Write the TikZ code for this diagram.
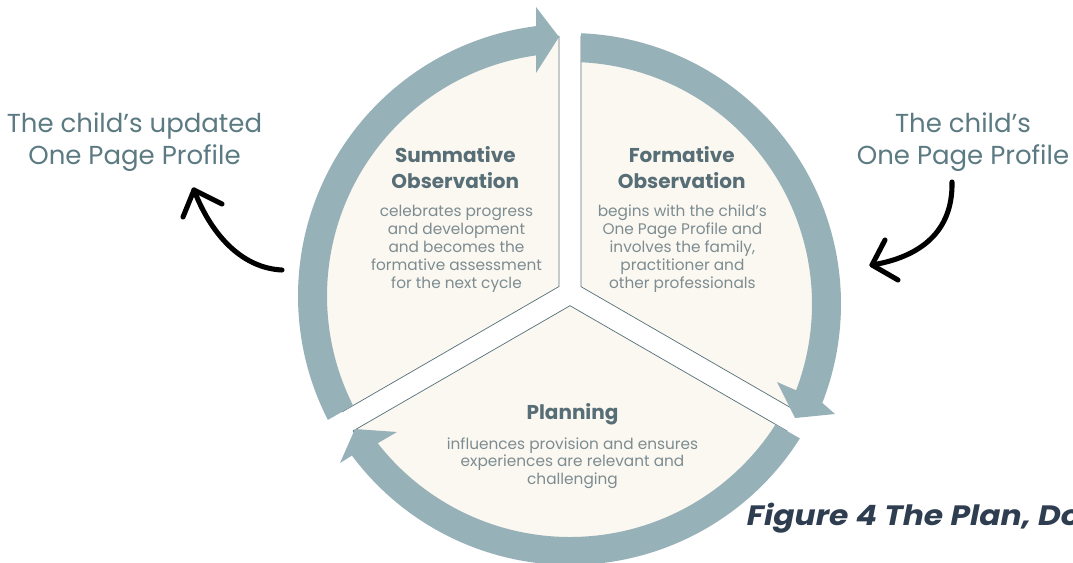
\documentclass[tikz,border=0pt]{standalone}
\usepackage{fontspec}
\usepackage{graphicx}
\setmainfont{Poppins}
\usetikzlibrary{calc}
\definecolor{ringc}{HTML}{97B1B8}
\definecolor{creamc}{HTML}{FBF8F1}
\definecolor{edgec}{HTML}{5A737D}
\definecolor{headc}{HTML}{586E76}
\definecolor{bodyc}{HTML}{7D8C91}
\definecolor{labelc}{HTML}{5C7A82}
\definecolor{capc}{HTML}{2E3D4F}
\tikzset{
  sector/.style={fill=creamc, draw=edgec, line width=0.55pt},
  ringarrow/.style={fill=ringc},
  handarrow/.style={draw=black, line width=3.8pt, line cap=round, line join=round},
  outerlabel/.style={text=labelc, font=\fontsize{19.5}{23.7}\selectfont, align=center, anchor=north, inner sep=0pt},
  heading/.style={text=headc, font=\bfseries\fontsize{15}{19.5}\selectfont, align=center, anchor=north, inner sep=0pt},
  bodytext/.style={text=bodyc, font=\fontsize{11.5}{13.4}\selectfont, align=center, anchor=north, inner sep=0pt},
  planbody/.style={text=bodyc, font=\fontsize{11.5}{13.1}\selectfont, align=center, anchor=north, inner sep=0pt},
  caption/.style={text=capc, font=\bfseries\itshape\fontsize{21}{25}\selectfont, anchor=base west, inner sep=0pt}
}
\begin{document}
\begin{tikzpicture}[x=0.75pt, y=0.75pt]
\useasboundingbox (0,0) rectangle (1073,562);
\fill[white] (0,0) rectangle (1073,562);
% centres
\coordinate (O) at (570,269);
\coordinate (L) at (570,266);
\coordinate (R) at (570,258);
\coordinate (B) at (570,269);
% sectors
\draw[sector] (559,275.5) -- ($(O)+(92.45:257)$) arc[start angle=92.45, end angle=207.55, radius=257] -- cycle;
\draw[sector] (581,275.35) -- ($(O)+(-27.55:257)$) arc[start angle=-27.55, end angle=87.55, radius=257] -- cycle;
\draw[sector] (570,256.3) -- ($(O)+(212.45:257)$) arc[start angle=212.45, end angle=327.55, radius=257] -- cycle;
% ring arrows
\fill[ringarrow] ($(L)+(207.11:272)$) arc[start angle=207.11, end angle=97.18, radius=272]
  -- (536,555) -- (559,525) -- (536,489)
  -- ($(L)+(98.04:243)$) arc[start angle=98.04, end angle=206.77, radius=243] -- cycle;
\fill[ringarrow] ($(R)+(87.67:271)$) arc[start angle=87.67, end angle=-21.4, radius=271]
  -- (835,148) -- (795,144) -- (777,180)
  -- ($(R)+(-20.9:242)$) arc[start angle=-20.9, end angle=87.39, radius=242] -- cycle;
\fill[ringarrow] ($(B)+(-32.32:272)$) arc[start angle=-32.32, end angle=-143.3, radius=272]
  -- (340,99) -- (355,133) -- (397,130)
  -- ($(B)+(-142:244)$) arc[start angle=-142, end angle=-32.58, radius=244] -- cycle;
% sector texts
\node[heading] (sumh) at (455.3,415.6) {Summative\\Observation};
\node[bodytext] (sumb) at (456.5,357.0) {celebrates progress\\and development\\and becomes the\\formative assessment\\for the next cycle};
\node[heading] (forh) at (681.7,415.6) {Formative\\Observation};
\node[bodytext] (forb) at (682.4,357.0) {begins with the child's\\One Page Profile and\\involves the family,\\practitioner and\\other professionals};
\node[heading] (planh) at (572.5,159.2) {Planning};
\node[planbody] (planb) at (572.5,124.8) {influences provision and ensures\\experiences are relevant and\\challenging};
% outer labels
\node[outerlabel] (left) at (134.5,449.5) {The child’s updated\\One Page Profile};
\node[outerlabel] (right) at (963,449.5) {The child’s\\One Page Profile};
% hand-drawn arrows
\coordinate (la0) at (282,292);
\coordinate (la1) at (194,372);
\draw[handarrow] (la0) .. controls (240,294) and (210,330) .. (la1);
\draw[handarrow] (183,345) -- (la1) -- (222,358);
\coordinate (ra0) at (952,380);
\coordinate (ra1) at (872,297);
\draw[handarrow] (ra0) .. controls (953,330) and (920,305) .. (ra1);
\draw[handarrow] (885,322) -- (ra1) -- (898,282);
% caption
\node[caption] (cap) at (746.7,37) {\scalebox{1.12}[1]{Figure 4 The Plan, Do}};
\end{tikzpicture}
\end{document}
